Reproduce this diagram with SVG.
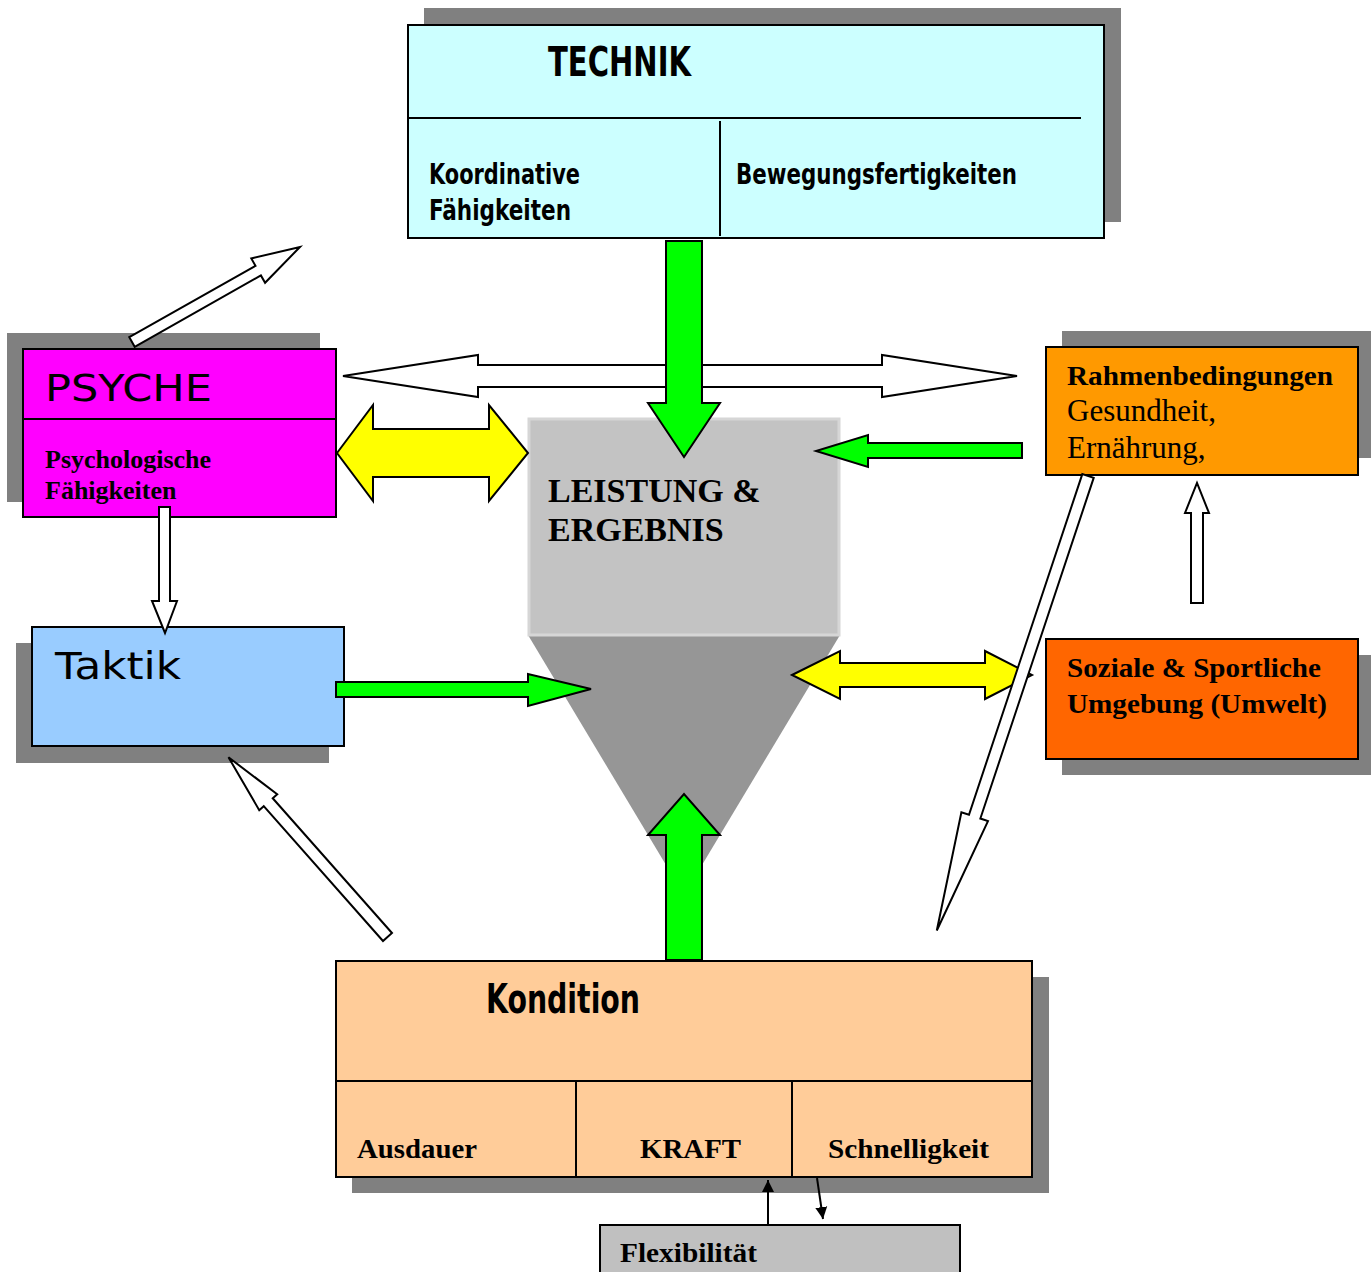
<svg xmlns="http://www.w3.org/2000/svg" width="1371" height="1272" viewBox="0 0 1371 1272">
  <defs>
    <style>
      .shadow { fill: #808080; }
      .box { stroke: #000; stroke-width: 2; }
      .line { stroke: #000; stroke-width: 2; fill: none; }
      .hollow { fill: #fff; stroke: #000; stroke-width: 2; stroke-linejoin: miter; }
      .green { fill: #00ff00; stroke: #000; stroke-width: 2; }
      .yellow { fill: #ffff00; stroke: #000; stroke-width: 2; }
      .cond { font-family: 'Liberation Sans Narrow', 'DejaVu Sans Condensed', 'DejaVu Sans', sans-serif; font-weight: bold; font-stretch: condensed; fill: #000; }
      .sans { font-family: 'DejaVu Sans', 'Liberation Sans', sans-serif; fill: #000; }
      .serif { font-family: 'Liberation Serif', 'Times New Roman', serif; fill: #000; }
      .b { font-weight: bold; }
      .thin { stroke: #000; stroke-width: 2; fill: none; }
    </style>
    <marker id="head" viewBox="0 0 10 10" refX="10" refY="5" markerWidth="6" markerHeight="7" markerUnits="strokeWidth" orient="auto">
      <path d="M0,0 L10,5 L0,10 Z" fill="#000"/>
    </marker>
  </defs>

  <rect width="1371" height="1272" fill="#fff"/>

  <!-- Leistung & Ergebnis funnel -->
  <g id="leistung">
    <polygon points="528,635 840,635 684,895" fill="#969696"/>
    <rect x="529" y="419" width="310" height="216" fill="#c3c3c3" stroke="#d6d6d6" stroke-width="3"/>
    <text class="serif b" x="548" y="502" font-size="34" fill="#111">LEISTUNG &amp;</text>
    <text class="serif b" x="548" y="541" font-size="34" fill="#111">ERGEBNIS</text>
  </g>

  <!-- TECHNIK -->
  <g id="technik">
    <rect class="shadow" x="424" y="8" width="697" height="214"/>
    <rect class="box" x="408" y="25" width="696" height="213" fill="#ccffff"/>
    <line class="line" x1="408" y1="118" x2="1081" y2="118"/>
    <line class="line" x1="720" y1="121" x2="720" y2="236"/>
    <text class="cond" x="548" y="76" font-size="40" textLength="143" lengthAdjust="spacingAndGlyphs">TECHNIK</text>
    <text class="cond" x="429" y="184" font-size="29" textLength="151" lengthAdjust="spacingAndGlyphs">Koordinative</text>
    <text class="cond" x="429" y="220" font-size="29" textLength="142" lengthAdjust="spacingAndGlyphs">Fähigkeiten</text>
    <text class="cond" x="736" y="184" font-size="29" textLength="281" lengthAdjust="spacingAndGlyphs">Bewegungsfertigkeiten</text>
  </g>

  <!-- PSYCHE -->
  <g id="psyche">
    <rect class="shadow" x="7" y="333" width="313" height="169"/>
    <rect class="box" x="23" y="349" width="313" height="168" fill="#ff00ff"/>
    <line class="line" x1="23" y1="419" x2="336" y2="419"/>
    <text class="sans" x="45" y="401" font-size="38" textLength="167" lengthAdjust="spacingAndGlyphs">PSYCHE</text>
    <text class="serif b" x="45" y="468" font-size="26">Psychologische</text>
    <text class="serif b" x="45" y="499" font-size="26">Fähigkeiten</text>
  </g>

  <!-- Taktik -->
  <g id="taktik">
    <rect class="shadow" x="16" y="643" width="313" height="120"/>
    <rect class="box" x="32" y="627" width="312" height="119" fill="#99ccff"/>
    <text class="sans" x="55" y="679" font-size="37" textLength="126" lengthAdjust="spacingAndGlyphs">Taktik</text>
  </g>

  <!-- Rahmenbedingungen -->
  <g id="rahmen">
    <rect class="shadow" x="1062" y="331" width="309" height="127"/>
    <rect class="box" x="1046" y="347" width="312" height="128" fill="#ff9900"/>
    <text class="serif b" x="1067" y="385" font-size="28" textLength="266" lengthAdjust="spacingAndGlyphs">Rahmenbedingungen</text>
    <text class="serif" x="1067" y="421" font-size="31">Gesundheit,</text>
    <text class="serif" x="1067" y="458" font-size="31">Ernährung,</text>
  </g>

  <!-- Soziale & Sportliche Umgebung -->
  <g id="umwelt">
    <rect class="shadow" x="1062" y="655" width="309" height="120"/>
    <rect class="box" x="1046" y="639" width="312" height="120" fill="#ff6600"/>
    <text class="serif b" x="1067" y="677" font-size="28" textLength="254" lengthAdjust="spacingAndGlyphs">Soziale &amp; Sportliche</text>
    <text class="serif b" x="1067" y="713" font-size="28" textLength="260" lengthAdjust="spacingAndGlyphs">Umgebung (Umwelt)</text>
  </g>

  <!-- Kondition -->
  <g id="kondition">
    <rect class="shadow" x="352" y="977" width="697" height="216"/>
    <rect class="box" x="336" y="961" width="696" height="216" fill="#ffcc99"/>
    <line class="line" x1="336" y1="1081" x2="1032" y2="1081"/>
    <line class="line" x1="576" y1="1081" x2="576" y2="1177"/>
    <line class="line" x1="792" y1="1081" x2="792" y2="1177"/>
    <text class="cond" x="486" y="1013" font-size="40" textLength="154" lengthAdjust="spacingAndGlyphs">Kondition</text>
    <text class="serif b" x="357" y="1158" font-size="28" textLength="120" lengthAdjust="spacingAndGlyphs">Ausdauer</text>
    <text class="serif b" x="640" y="1158" font-size="28" textLength="101" lengthAdjust="spacingAndGlyphs">KRAFT</text>
    <text class="serif b" x="828" y="1158" font-size="28" textLength="161" lengthAdjust="spacingAndGlyphs">Schnelligkeit</text>
  </g>

  <!-- Flexibilität -->
  <g id="flexibilitaet">
    <rect class="box" x="600" y="1225" width="360" height="60" fill="#c0c0c0"/>
    <text class="serif b" x="620" y="1262" font-size="28" textLength="137" lengthAdjust="spacingAndGlyphs">Flexibilität</text>
  </g>

  <!-- Connectors -->
  <g id="connectors">
    <!-- Psyche <-> Rahmen (drawn first, the green Technik arrow crosses over it) -->
    <polygon class="hollow" points="343,376 478,355 478,365 882,365 882,355 1017,376 882,397 882,387 478,387 478,397"/>

    <!-- Technik -> Leistung -->
    <polygon class="green" points="666,241 702,241 702,403 720,403 684,457 648,403 666,403"/>
    <!-- Rahmen -> Leistung -->
    <polygon class="green" points="1022,443 1022,458 868,458 868,467 816,451 868,435 868,443"/>
    <!-- Taktik -> Leistung -->
    <polygon class="green" points="336,682 528,682 528,674 591,689 528,706 528,697 336,697"/>
    <!-- Kondition -> Leistung -->
    <polygon class="green" points="666,960 666,835 648,835 684,794 720,835 702,835 702,960"/>

    <!-- Psyche <-> Leistung -->
    <polygon class="yellow" points="337,453 373,405 373,429 489,429 489,405 528,453 489,501 489,477 373,477 373,501"/>
    <!-- Leistung <-> Umwelt -->
    <polygon class="yellow" points="792,675 840,651 840,663 985,663 985,651 1032,675 985,699 985,687 840,687 840,699"/>

    <!-- Psyche -> upward -->
    <polygon class="hollow" transform="translate(132,342) rotate(-29.5)" points="0,-5.5 145,-5.5 145,-14 193,0 145,14 145,5.5 0,5.5"/>
    <!-- Psyche -> Taktik -->
    <polygon class="hollow" points="159,507 170,507 170,601 177,601 165,633 152,601 159,601"/>
    <!-- Kondition -> Taktik -->
    <polygon class="hollow" transform="translate(387.5,937) rotate(-131.5)" points="0,-6 180,-6 180,-12 240,0 180,12 180,6 0,6"/>
    <!-- Rahmen -> Kondition -->
    <polygon class="hollow" transform="translate(1088,476) rotate(108.4)" points="0,-6 359,-6 359,-14 479,0 359,14 359,6 0,6"/>
    <!-- Umwelt -> Rahmen -->
    <polygon class="hollow" points="1191,603 1191,513 1185,513 1197,483 1209,513 1203,513 1203,603"/>

    <!-- Flexibilität <-> Kondition -->
    <line class="thin" x1="768" y1="1225" x2="768" y2="1180" marker-end="url(#head)"/>
    <line class="thin" x1="817" y1="1178" x2="823" y2="1219" marker-end="url(#head)"/>
  </g>
</svg>
